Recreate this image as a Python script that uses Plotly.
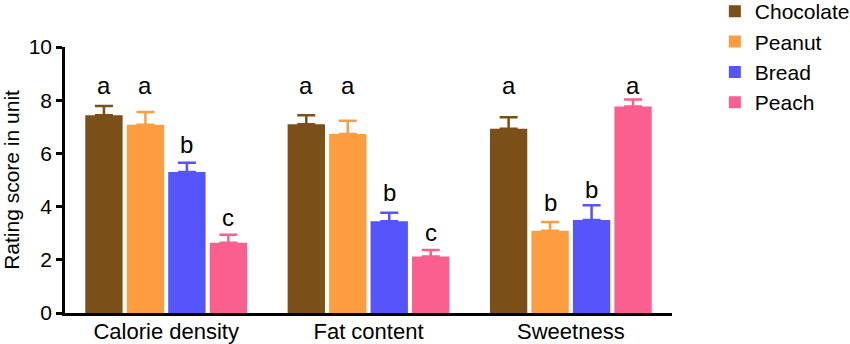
import plotly.graph_objects as go

categories = ["Calorie density", "Fat content", "Sweetness"]
series_names = ["Chocolate", "Peanut", "Bread", "Peach"]
colors = ["#7a4f18", "#fd9d3f", "#5555fb", "#fb5f8f"]

chocolate = [7.43, 7.10, 6.93]
peanut = [7.08, 6.73, 3.09]
bread = [5.30, 3.45, 3.50]
peach = [2.64, 2.12, 7.76]

chocolate_err = [0.35, 0.33, 0.43]
peanut_err = [0.48, 0.50, 0.33]
bread_err = [0.35, 0.32, 0.55]
peach_err = [0.30, 0.25, 0.27]

chocolate_lbl = ["a", "a", "a"]
peanut_lbl = ["a", "a", "b"]
bread_lbl = ["b", "b", "b"]
peach_lbl = ["c", "c", "a"]

# label baseline heights (data units)
chocolate_lbl_y = [8.2, 8.2, 8.2]
peanut_lbl_y = [8.2, 8.2, 3.80]
bread_lbl_y = [5.98, 4.17, 4.30]
peach_lbl_y = [3.23, 2.67, 8.2]

values = [chocolate, peanut, bread, peach]
errs = [chocolate_err, peanut_err, bread_err, peach_err]
lbls = [chocolate_lbl, peanut_lbl, bread_lbl, peach_lbl]
lbl_ys = [chocolate_lbl_y, peanut_lbl_y, bread_lbl_y, peach_lbl_y]

FONT = "Liberation Sans, Arial, sans-serif"

fig = go.Figure()
for i, name in enumerate(series_names):
    fig.add_trace(go.Bar(
        name=name, x=categories, y=values[i],
        marker=dict(color=colors[i], line=dict(width=0)),
        error_y=dict(type="data", symmetric=False, array=errs[i],
                     arrayminus=[0] * len(categories),
                     color=colors[i], thickness=2.5, width=9),
        legendgroup=name,
        offsetgroup=str(i),
    ))

n = len(series_names)
bargap = 0.18
group_w = 1 - bargap
slot = group_w / n
annotations = []
for i in range(n):
    for j, cat in enumerate(categories):
        xpos = j - group_w / 2 + slot * (i + 0.5)
        annotations.append(dict(
            x=xpos, y=lbl_ys[i][j], xref="x", yref="y",
            text=lbls[i][j], showarrow=False, yanchor="bottom", yshift=-6,
            font=dict(family=FONT, size=24, color="black"),
        ))

fig.update_layout(
    barmode="group", bargap=bargap, bargroupgap=0.1,
    width=850, height=344,
    margin=dict(l=65, r=178, t=47, b=31, autoexpand=False),
    paper_bgcolor="white", plot_bgcolor="white",
    font=dict(family=FONT, color="black"),
    showlegend=True,
    legend=dict(x=0.841, xanchor="left", xref="container", y=1.21, yanchor="top",
                yref="paper",
                font=dict(family=FONT, size=21, color="black"),
                tracegroupgap=0, itemwidth=30,
                bgcolor="rgba(0,0,0,0)"),
    annotations=annotations,
)
fig.update_xaxes(
    type="category", range=[-0.5, 2.5],
    showline=True, linecolor="black", linewidth=2.5,
    ticks="", tickfont=dict(family=FONT, size=22, color="black"),
    ticklabelstandoff=-3,
    showgrid=False, zeroline=False,
)
fig.update_yaxes(
    range=[0, 10], tickvals=[0, 2, 4, 6, 8, 10],
    showline=True, linecolor="black", linewidth=2.5,
    ticks="outside", ticklen=6, tickwidth=2.5, tickcolor="black",
    tickfont=dict(family=FONT, size=21, color="black"),
    showgrid=False, zeroline=False,
    title=dict(text="Rating score in unit", font=dict(family=FONT, size=21, color="black"), standoff=6),
)

# remove the browser's default 8px body margin so the figure fills the window
fig.write_html("out.html", config={"displayModeBar": False},
               post_script="document.body.style.margin='0';")
